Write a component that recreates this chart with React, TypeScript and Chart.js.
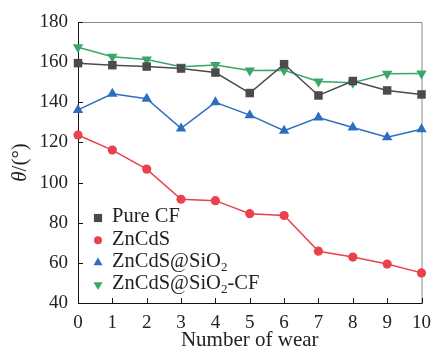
import React, { useEffect, useRef } from 'react';
import { Chart, registerables } from 'chart.js';

Chart.register(...registerables);

const wearCounts = [0, 1, 2, 3, 4, 5, 6, 7, 8, 9, 10];
const pureCF = [159.5, 158.5, 157.8, 156.8, 154.8, 144.6, 159.0, 143.4, 150.6, 145.9, 143.9];
const znCdS = [123.7, 116.2, 106.7, 91.7, 91.0, 84.5, 83.6, 65.8, 62.9, 59.4, 55.0];
const znCdSSiO2 = [136.2, 144.2, 141.8, 127.0, 140.0, 133.6, 125.8, 132.4, 127.4, 122.6, 126.6];
const znCdSSiO2CF = [167.4, 162.7, 161.3, 157.7, 158.6, 155.8, 155.9, 150.4, 149.7, 154.2, 154.3];
const seriesLabels = ['Pure CF', 'ZnCdS', 'ZnCdS@SiO₂', 'ZnCdS@SiO₂-CF'];
const xTitle = 'Number of wear';
const yTitleItalic = 'θ';
const yTitleRest = '/(°)';

const FONT = '"Liberation Serif", "Times New Roman", serif';

function drawMarker(ctx: CanvasRenderingContext2D, style: string, rot: number, r: number, x: number, y: number) {
  ctx.beginPath();
  if (style === 'rect') {
    const s = r * Math.SQRT1_2;
    ctx.rect(x - s, y - s, 2 * s, 2 * s);
  } else if (style === 'circle') {
    ctx.arc(x, y, r, 0, Math.PI * 2);
  } else {
    const dir = rot === 180 ? -1 : 1;
    const h = r * 1.5;
    const half = r * Math.sqrt(3) / 2;
    ctx.moveTo(x, y - dir * r);
    ctx.lineTo(x + half, y + dir * (h - r));
    ctx.lineTo(x - half, y + dir * (h - r));
    ctx.closePath();
  }
  ctx.fill();
}

const framePlugin = {
  id: 'frame',
  beforeDatasetsDraw(chart: any) {
    const { ctx, chartArea: a, scales } = chart;
    ctx.save();
    ctx.lineWidth = 1;
    ctx.strokeStyle = '#8a8a8a';
    ctx.beginPath();
    ctx.moveTo(a.left, a.top + 0.5);
    ctx.lineTo(a.right + 0.5, a.top + 0.5);
    ctx.lineTo(a.right + 0.5, a.bottom);
    ctx.stroke();
    ctx.strokeStyle = '#111';
    ctx.beginPath();
    ctx.moveTo(a.left + 0.5, a.top);
    ctx.lineTo(a.left + 0.5, a.bottom + 0.5);
    ctx.lineTo(a.right + 1, a.bottom + 0.5);
    ctx.stroke();
    ctx.beginPath();
    scales.x.ticks.forEach((t: any) => {
      const px = Math.round(scales.x.getPixelForValue(t.value)) + 0.5;
      ctx.moveTo(px, a.bottom);
      ctx.lineTo(px, a.bottom - 5);
    });
    scales.y.ticks.forEach((t: any) => {
      const py = Math.round(scales.y.getPixelForValue(t.value)) + 0.5;
      ctx.moveTo(a.left, py);
      ctx.lineTo(a.left + 5, py);
    });
    ctx.stroke();
    ctx.restore();
  },
  afterDraw(chart: any) {
    const { ctx, chartArea: a } = chart;
    ctx.save();
    ctx.fillStyle = '#222';
    ctx.translate(20, (a.top + a.bottom) / 2);
    ctx.rotate(-Math.PI / 2);
    ctx.textBaseline = 'middle';
    ctx.font = `italic 21px ${FONT}`;
    const w1 = ctx.measureText(yTitleItalic).width;
    ctx.font = `21px ${FONT}`;
    const w2 = ctx.measureText(yTitleRest).width;
    const start = -(w1 + w2) / 2;
    ctx.textAlign = 'left';
    ctx.font = `italic 21px ${FONT}`;
    ctx.fillText(yTitleItalic, start, 0);
    ctx.font = `21px ${FONT}`;
    ctx.fillText(yTitleRest, start + w1, 0);
    ctx.restore();

    ctx.save();
    const x0 = a.left + 20;
    const tx = a.left + 34;
    let y = 217;
    chart.data.datasets.forEach((ds: any) => {
      ctx.fillStyle = ds.backgroundColor;
      drawMarker(ctx, ds.pointStyle, ds.pointRotation || 0, ds.legendRadius, x0, y + 1);
      ctx.fillStyle = '#222';
      ctx.textBaseline = 'middle';
      ctx.textAlign = 'left';
      const parts = String(ds.label).split('₂');
      let cx = tx;
      parts.forEach((p: string, i: number) => {
        ctx.font = `20.5px ${FONT}`;
        ctx.fillText(p, cx, y);
        cx += ctx.measureText(p).width;
        if (i < parts.length - 1) {
          ctx.font = `13px ${FONT}`;
          ctx.fillText('2', cx, y + 6);
          cx += ctx.measureText('2').width;
        }
      });
      y += 22.3;
    });
    ctx.restore();
  },
};

export default function App() {
  const ref = useRef<HTMLCanvasElement>(null);
  useEffect(() => {
    document.body.style.margin = '0';
    const mk = (label: string, data: number[], color: string, pointStyle: string, radius: number, legendRadius: number, rotation = 0) => ({
      label,
      data: data.map((v, i) => ({ x: wearCounts[i], y: v })),
      borderColor: color,
      backgroundColor: color,
      pointBackgroundColor: color,
      pointBorderColor: color,
      pointBorderWidth: 0,
      pointStyle,
      pointRotation: rotation,
      pointRadius: radius,
      legendRadius,
      borderWidth: 1.5,
      tension: 0,
      clip: false,
    });
    const chart = new Chart(ref.current as HTMLCanvasElement, {
      type: 'line',
      data: {
        datasets: [
          mk(seriesLabels[0], pureCF, '#4b4b4b', 'rect', 6, 5.8),
          mk(seriesLabels[1], znCdS, '#e8424a', 'circle', 4.6, 4),
          mk(seriesLabels[2], znCdSSiO2, '#2d6fbe', 'triangle', 6, 5.2),
          mk(seriesLabels[3], znCdSSiO2CF, '#3aa66a', 'triangle', 6, 5.2, 180),
        ] as any,
      },
      options: {
        animation: false,
        responsive: false,
        devicePixelRatio: 1,
        layout: { padding: { top: 22, right: 11, left: 0, bottom: 0 } },
        plugins: { legend: { display: false }, tooltip: { enabled: false } },
        scales: {
          x: {
            type: 'linear',
            min: 0,
            max: 10,
            border: { display: false },
            grid: { display: false, drawTicks: false },
            ticks: { stepSize: 1, color: '#222', font: { family: FONT, size: 19 }, padding: 9, maxRotation: 0 },
            title: { display: true, text: xTitle, color: '#222', font: { family: FONT, size: 21 }, padding: { top: 0, bottom: 2 } },
            afterFit: (s: any) => { s.height = 52; },
          },
          y: {
            type: 'linear',
            min: 40,
            max: 180,
            border: { display: false },
            grid: { display: false, drawTicks: false },
            ticks: { stepSize: 20, color: '#222', font: { family: FONT, size: 19 }, padding: 10 },
            afterFit: (s: any) => { s.width = 78; },
          },
        },
      } as any,
      plugins: [framePlugin],
    });
    return () => chart.destroy();
  }, []);
  return <canvas ref={ref} width={440} height={355} style={{ display: 'block' }} />;
}
